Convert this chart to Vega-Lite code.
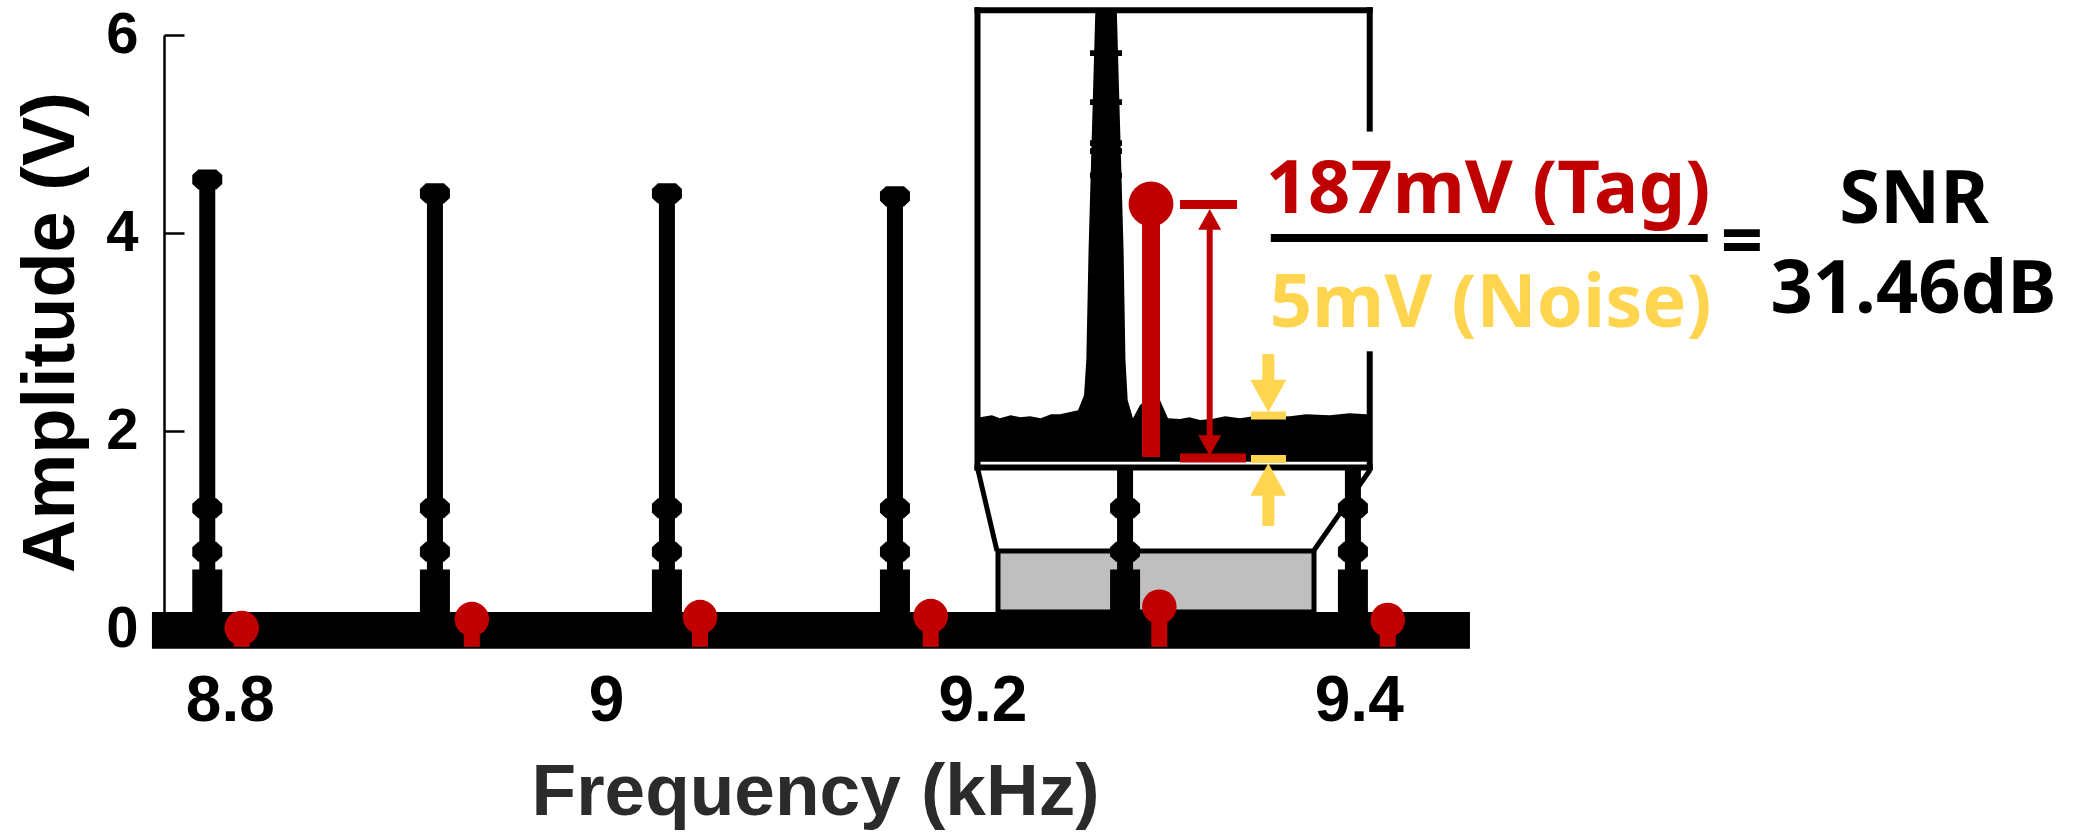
{
  "$schema": "https://vega.github.io/schema/vega-lite/v6.json",
  "width": 1302,
  "height": 594,
  "autosize": {"type": "none"},
  "padding": {"left": 164, "top": 35, "right": 612, "bottom": 203},
  "background": "white",
  "config": {"view": {"stroke": null}},
  "datasets": {
    "zoomRegion": [{"f0": 9.20826, "f1": 9.37622, "a0": 0.172, "a1": 0.7879}],
    "noiseFloor": [{"f0": 8.7586, "f1": 9.4591, "a0": -0.2, "a1": 0.172}],
    "peaks": [
      {"freq": 8.788, "amp": 4.54},
      {"freq": 8.909, "amp": 4.40},
      {"freq": 9.0323, "amp": 4.40},
      {"freq": 9.1535, "amp": 4.37},
      {"freq": 9.2758, "amp": 4.40},
      {"freq": 9.3969, "amp": 4.40}
    ],
    "stemMarkers": [
      {"freq": 8.788, "amp": 4.54}, {"freq": 8.788, "amp": 1.22}, {"freq": 8.788, "amp": 0.78},
      {"freq": 8.909, "amp": 4.40}, {"freq": 8.909, "amp": 1.22}, {"freq": 8.909, "amp": 0.78},
      {"freq": 9.0323, "amp": 4.40}, {"freq": 9.0323, "amp": 1.22}, {"freq": 9.0323, "amp": 0.78},
      {"freq": 9.1535, "amp": 4.37}, {"freq": 9.1535, "amp": 1.22}, {"freq": 9.1535, "amp": 0.78},
      {"freq": 9.2758, "amp": 4.40}, {"freq": 9.2758, "amp": 1.22}, {"freq": 9.2758, "amp": 0.78},
      {"freq": 9.3969, "amp": 4.40}, {"freq": 9.3969, "amp": 1.22}, {"freq": 9.3969, "amp": 0.78}
    ],
    "tags": [
      {"freq": 8.8063, "amp": 0.01},
      {"freq": 8.9286, "amp": 0.10},
      {"freq": 9.0499, "amp": 0.12},
      {"freq": 9.1725, "amp": 0.13},
      {"freq": 9.2940, "amp": 0.225},
      {"freq": 9.4154, "amp": 0.09}
    ],
    "insetBox": [{"f0": 9.19737, "f1": 9.40583, "a0": 1.6313, "a1": 6.2505}],
    "insetFrame": [
      {"f0": 9.19737, "f1": 9.40583, "a0": 6.2505, "a1": 6.2505},
      {"f0": 9.19737, "f1": 9.19737, "a0": 6.2505, "a1": 1.6313},
      {"f0": 9.19737, "f1": 9.40583, "a0": 1.6313, "a1": 1.6313},
      {"f0": 9.40583, "f1": 9.40583, "a0": 6.2505, "a1": 5.0545},
      {"f0": 9.40583, "f1": 9.40583, "a0": 2.7747, "a1": 1.6313}
    ],
    "connectors": [
      {"f0": 9.19763, "f1": 9.20773, "a0": 1.6061, "a1": 0.7879},
      {"f0": 9.40598, "f1": 9.37595, "a0": 1.6061, "a1": 0.7879}
    ],
    "insetSpectrum": [
      {"freq": 9.1987, "amp": 2.14}, {"freq": 9.2050, "amp": 2.16}, {"freq": 9.2093, "amp": 2.13},
      {"freq": 9.2150, "amp": 2.16}, {"freq": 9.2200, "amp": 2.14}, {"freq": 9.2253, "amp": 2.15},
      {"freq": 9.2310, "amp": 2.13}, {"freq": 9.2365, "amp": 2.17}, {"freq": 9.2412, "amp": 2.17},
      {"freq": 9.2460, "amp": 2.19}, {"freq": 9.2508, "amp": 2.21}, {"freq": 9.2540, "amp": 2.36},
      {"freq": 9.2552, "amp": 2.72}, {"freq": 9.2564, "amp": 3.83}, {"freq": 9.2582, "amp": 5.04},
      {"freq": 9.2600, "amp": 6.25}, {"freq": 9.2714, "amp": 6.25}, {"freq": 9.2732, "amp": 5.04},
      {"freq": 9.2750, "amp": 3.83}, {"freq": 9.2760, "amp": 2.72}, {"freq": 9.2772, "amp": 2.31},
      {"freq": 9.2800, "amp": 2.13}, {"freq": 9.2837, "amp": 2.26}, {"freq": 9.2880, "amp": 2.33},
      {"freq": 9.2944, "amp": 2.31}, {"freq": 9.2986, "amp": 2.13}, {"freq": 9.3050, "amp": 2.12},
      {"freq": 9.3100, "amp": 2.14}, {"freq": 9.3156, "amp": 2.11}, {"freq": 9.3220, "amp": 2.12},
      {"freq": 9.3290, "amp": 2.15}, {"freq": 9.3369, "amp": 2.13}, {"freq": 9.3440, "amp": 2.15},
      {"freq": 9.3500, "amp": 2.14}, {"freq": 9.3635, "amp": 2.15}, {"freq": 9.3720, "amp": 2.17},
      {"freq": 9.3847, "amp": 2.16}, {"freq": 9.3950, "amp": 2.18}, {"freq": 9.4044, "amp": 2.17}
    ],
    "spikeNoise": [
      {"freq": 9.26566, "amp": 5.818}, {"freq": 9.26566, "amp": 5.323}, {"freq": 9.26566, "amp": 4.909},
      {"freq": 9.26566, "amp": 4.828}, {"freq": 9.26566, "amp": 4.581}, {"freq": 9.26566, "amp": 4.253},
      {"freq": 9.26566, "amp": 4.044}, {"freq": 9.26566, "amp": 3.838}, {"freq": 9.26566, "amp": 3.717},
      {"freq": 9.26566, "amp": 3.509}, {"freq": 9.26566, "amp": 3.343}, {"freq": 9.26566, "amp": 3.182},
      {"freq": 9.26566, "amp": 3.056}, {"freq": 9.26566, "amp": 2.848}
    ],
    "tagInset": [{"freq": 9.28958, "amp": 4.2929, "base": 1.7374}],
    "tagCaps": [
      {"f0": 9.30500, "f1": 9.33529, "amp": 4.2879},
      {"f0": 9.30500, "f1": 9.34007, "amp": 1.7273}
    ],
    "tagArrow": [{"freq": 9.32078, "a0": 4.10, "a1": 1.90}],
    "tagHeads": [
      {"freq": 9.32078, "amp": 4.1384, "dir": "up"},
      {"freq": 9.32078, "amp": 1.8535, "dir": "down"}
    ],
    "noiseBars": [
      {"f0": 9.34273, "f1": 9.36133, "amp": 2.1566},
      {"f0": 9.34273, "f1": 9.36133, "amp": 1.7172}
    ],
    "noiseShafts": [
      {"freq": 9.35193, "a0": 2.7778, "a1": 2.4949},
      {"freq": 9.35193, "a0": 1.3636, "a1": 1.0404}
    ],
    "noiseHeads": [
      {"freq": 9.35193, "amp": 2.3535, "dir": "down"},
      {"freq": 9.35193, "amp": 1.5101, "dir": "up"}
    ],
    "fraction": [{"f0": 9.35325, "f1": 9.58546, "amp": 3.9495}],
    "labels": [
      {"text": "187mV (Tag)", "freq": 9.46869, "amp": 4.199, "role": "tag"},
      {"text": "5mV (Noise)", "freq": 9.47008, "amp": 3.0535, "role": "noise"},
      {"text": "=", "freq": 9.60369, "amp": 3.667, "role": "result"},
      {"text": "SNR", "freq": 9.69511, "amp": 4.104, "role": "result"},
      {"text": "31.46dB", "freq": 9.69484, "amp": 3.195, "role": "result"}
    ]
  },
  "layer": [
    {
      "data": {"name": "zoomRegion"},
      "mark": {"type": "rect", "fill": "#bfbfbf", "stroke": "black", "strokeWidth": 5},
      "encoding": {
        "x": {
          "field": "f0", "type": "quantitative",
          "scale": {"domain": [8.765, 9.457], "nice": false, "zero": false},
          "axis": {
            "title": "Frequency (kHz)", "values": [8.8, 9, 9.2, 9.4], "format": "~g",
            "ticks": false, "domain": false, "grid": false, "labelFlush": false,
            "labelFont": "Liberation Sans", "labelFontWeight": "bold", "labelFontSize": 64,
            "labelColor": "black", "labelPadding": 40,
            "titleFont": "Liberation Sans", "titleFontWeight": "bold", "titleFontSize": 73,
            "titleColor": "#2b2b2b", "titlePadding": 23
          }
        },
        "x2": {"field": "f1"},
        "y": {
          "field": "a0", "type": "quantitative",
          "scale": {"domain": [0, 6], "nice": false, "zero": false},
          "axis": {
            "title": "Amplitude (V)", "values": [0, 2, 4, 6], "format": "~g",
            "grid": false, "labelFlush": false,
            "tickSize": -20, "tickWidth": 2.5, "tickColor": "black",
            "domainColor": "black", "domainWidth": 2.5,
            "labelFont": "Liberation Sans", "labelFontWeight": "bold", "labelFontSize": 58,
            "labelColor": "black", "labelPadding": 46,
            "titleFont": "Liberation Sans", "titleFontWeight": "bold", "titleFontSize": 74,
            "titleColor": "black", "titlePadding": 16
          }
        },
        "y2": {"field": "a1"}
      }
    },
    {
      "data": {"name": "noiseFloor"},
      "mark": {"type": "rect", "fill": "black"},
      "encoding": {
        "x": {"field": "f0", "type": "quantitative"},
        "x2": {"field": "f1"},
        "y": {"field": "a0", "type": "quantitative"},
        "y2": {"field": "a1"}
      }
    },
    {
      "data": {"name": "peaks"},
      "mark": {"type": "rule", "color": "black", "strokeWidth": 16},
      "encoding": {
        "x": {"field": "freq", "type": "quantitative"},
        "y": {"field": "amp", "type": "quantitative"},
        "y2": {"datum": 0}
      }
    },
    {
      "data": {"name": "peaks"},
      "mark": {"type": "rule", "color": "black", "strokeWidth": 30},
      "encoding": {
        "x": {"field": "freq", "type": "quantitative"},
        "y": {"datum": 0.6, "type": "quantitative"},
        "y2": {"datum": 0}
      }
    },
    {
      "data": {"name": "stemMarkers"},
      "mark": {"type": "point", "filled": true, "color": "black", "opacity": 1, "size": 900,
               "shape": "M-0.6,-0.67L0.6,-0.67L1,-0.3L1,0.3L0.6,0.67L-0.6,0.67L-1,0.3L-1,-0.3Z"},
      "encoding": {
        "x": {"field": "freq", "type": "quantitative"},
        "y": {"field": "amp", "type": "quantitative"}
      }
    },
    {
      "data": {"name": "tags"},
      "mark": {"type": "rule", "color": "#c00000", "strokeWidth": 16},
      "encoding": {
        "x": {"field": "freq", "type": "quantitative"},
        "y": {"field": "amp", "type": "quantitative"},
        "y2": {"datum": -0.18}
      }
    },
    {
      "data": {"name": "tags"},
      "mark": {"type": "point", "filled": true, "shape": "circle", "color": "#c00000", "opacity": 1, "size": 1195},
      "encoding": {
        "x": {"field": "freq", "type": "quantitative"},
        "y": {"field": "amp", "type": "quantitative"}
      }
    },
    {
      "data": {"name": "insetBox"},
      "mark": {"type": "rect", "fill": "white"},
      "encoding": {
        "x": {"field": "f0", "type": "quantitative"},
        "x2": {"field": "f1"},
        "y": {"field": "a0", "type": "quantitative"},
        "y2": {"field": "a1"}
      }
    },
    {
      "data": {"name": "insetSpectrum"},
      "mark": {"type": "area", "color": "black", "opacity": 1, "interpolate": "linear"},
      "encoding": {
        "x": {"field": "freq", "type": "quantitative"},
        "y": {"field": "amp", "type": "quantitative"},
        "y2": {"datum": 1.69}
      }
    },
    {
      "data": {"name": "spikeNoise"},
      "mark": {"type": "point", "filled": true, "color": "black", "opacity": 1, "size": 1024,
               "shape": "M-1,-0.18L1,-0.18L1,0.18L-1,0.18Z"},
      "encoding": {
        "x": {"field": "freq", "type": "quantitative"},
        "y": {"field": "amp", "type": "quantitative"}
      }
    },
    {
      "data": {"name": "insetFrame"},
      "mark": {"type": "rule", "color": "black", "strokeWidth": 6, "strokeCap": "square"},
      "encoding": {
        "x": {"field": "f0", "type": "quantitative"},
        "x2": {"field": "f1"},
        "y": {"field": "a0", "type": "quantitative"},
        "y2": {"field": "a1"}
      }
    },
    {
      "data": {"name": "connectors"},
      "mark": {"type": "rule", "color": "black", "strokeWidth": 5},
      "encoding": {
        "x": {"field": "f0", "type": "quantitative"},
        "x2": {"field": "f1"},
        "y": {"field": "a0", "type": "quantitative"},
        "y2": {"field": "a1"}
      }
    },
    {
      "data": {"name": "tagInset"},
      "mark": {"type": "rule", "color": "#c00000", "strokeWidth": 18},
      "encoding": {
        "x": {"field": "freq", "type": "quantitative"},
        "y": {"field": "amp", "type": "quantitative"},
        "y2": {"field": "base"}
      }
    },
    {
      "data": {"name": "tagInset"},
      "mark": {"type": "point", "filled": true, "shape": "circle", "color": "#c00000", "opacity": 1, "size": 2010},
      "encoding": {
        "x": {"field": "freq", "type": "quantitative"},
        "y": {"field": "amp", "type": "quantitative"}
      }
    },
    {
      "data": {"name": "tagCaps"},
      "mark": {"type": "rule", "color": "#c00000", "strokeWidth": 9},
      "encoding": {
        "x": {"field": "f0", "type": "quantitative"},
        "x2": {"field": "f1"},
        "y": {"field": "amp", "type": "quantitative"}
      }
    },
    {
      "data": {"name": "tagArrow"},
      "mark": {"type": "rule", "color": "#c00000", "strokeWidth": 6},
      "encoding": {
        "x": {"field": "freq", "type": "quantitative"},
        "y": {"field": "a0", "type": "quantitative"},
        "y2": {"field": "a1"}
      }
    },
    {
      "data": {"name": "tagHeads"},
      "mark": {"type": "point", "filled": true, "color": "#c00000", "opacity": 1, "size": 529},
      "encoding": {
        "x": {"field": "freq", "type": "quantitative"},
        "y": {"field": "amp", "type": "quantitative"},
        "shape": {"field": "dir", "type": "nominal", "legend": null,
                  "scale": {"domain": ["up", "down"], "range": ["M0,-0.9L1,0.9L-1,0.9Z", "M-1,-0.9L1,-0.9L0,0.9Z"]}}
      }
    },
    {
      "data": {"name": "noiseBars"},
      "mark": {"type": "rule", "color": "#ffd54f", "strokeWidth": 8},
      "encoding": {
        "x": {"field": "f0", "type": "quantitative"},
        "x2": {"field": "f1"},
        "y": {"field": "amp", "type": "quantitative"}
      }
    },
    {
      "data": {"name": "noiseShafts"},
      "mark": {"type": "rule", "color": "#ffd54f", "strokeWidth": 12},
      "encoding": {
        "x": {"field": "freq", "type": "quantitative"},
        "y": {"field": "a0", "type": "quantitative"},
        "y2": {"field": "a1"}
      }
    },
    {
      "data": {"name": "noiseHeads"},
      "mark": {"type": "point", "filled": true, "color": "#ffd54f", "opacity": 1, "size": 1296},
      "encoding": {
        "x": {"field": "freq", "type": "quantitative"},
        "y": {"field": "amp", "type": "quantitative"},
        "shape": {"field": "dir", "type": "nominal", "legend": null}
      }
    },
    {
      "data": {"name": "fraction"},
      "mark": {"type": "rule", "color": "black", "strokeWidth": 8},
      "encoding": {
        "x": {"field": "f0", "type": "quantitative"},
        "x2": {"field": "f1"},
        "y": {"field": "amp", "type": "quantitative"}
      }
    },
    {
      "data": {"name": "labels"},
      "mark": {"type": "text", "font": "Noto Sans", "fontWeight": "bold", "fontSize": 74,
               "align": "center", "baseline": "alphabetic"},
      "encoding": {
        "x": {"field": "freq", "type": "quantitative"},
        "y": {"field": "amp", "type": "quantitative"},
        "text": {"field": "text"},
        "color": {"field": "role", "type": "nominal", "legend": null,
                  "scale": {"domain": ["tag", "noise", "result"], "range": ["#c00000", "#ffd54f", "#000000"]}}
      }
    }
  ]
}
